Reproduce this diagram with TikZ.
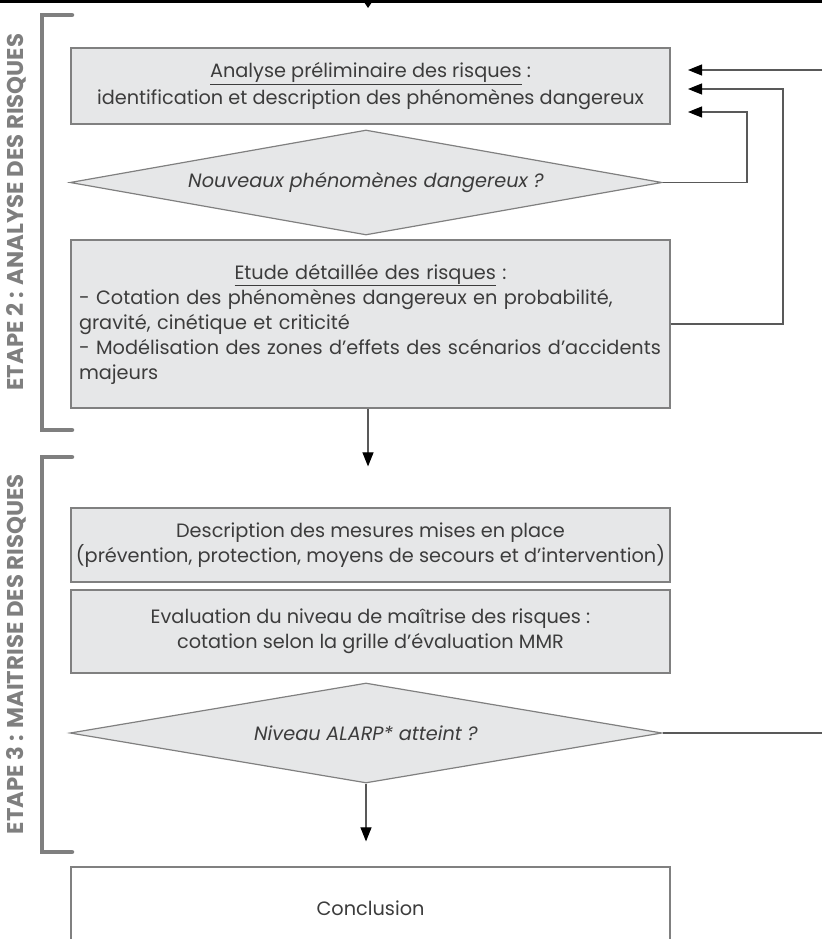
\documentclass[tikz,border=0pt]{standalone}
\usepackage{fontspec}
\setmainfont{Poppins}
\usetikzlibrary{arrows.meta,shapes.geometric}
\definecolor{boxfill}{HTML}{E6E7E8}
\definecolor{boxline}{HTML}{808080}
\definecolor{txtgray}{HTML}{3C3C3C}
\definecolor{stepgray}{HTML}{7F7F7F}
\begin{document}
\begin{tikzpicture}[x=1pt, y=-1pt,
    font=\fontsize{19.3}{25}\selectfont, text=txtgray,
    stepbox/.style={draw=boxline, line width=1.2pt, fill=boxfill, minimum width=599pt, inner sep=0pt, align=center},
    decision/.style={diamond, aspect=5.6, draw=boxline, line width=1.2pt, fill=boxfill, minimum width=592pt, inner sep=0pt, font=\fontsize{19.3}{25}\selectfont\itshape},
    flow/.style={draw=black!65, line width=1.1pt, -{Triangle[length=14pt, width=11pt, color=black]}},
    bracket/.style={draw=stepgray, line width=4.5pt, line cap=round},
    steplabel/.style={rotate=90, text=stepgray, font=\fontsize{22.8}{26}\selectfont\bfseries}]
    \useasboundingbox (0,0) rectangle (822,939);

    % Top edge (cut off)
    \draw[line width=4pt] (0,1.5) -- (822,1.5);
    \fill[black] (364,2) -- (372,2) -- (368,8) -- cycle;

    % Etape 2
    \node[stepbox, minimum height=76pt, font=\fontsize{19.3}{27}\selectfont] (apr) at (370.5,86)
        {\underline{Analyse préliminaire des risques} :\\identification et description des phénomènes dangereux};
    \node[decision, minimum height=105pt] (nouv) at (366,182.5) {Nouveaux phénomènes dangereux ?};
    \node[stepbox, minimum height=168pt, text width=583pt, align=left] (edr) at (370.5,324)
        {\makebox[\linewidth]{\underline{Etude détaillée des risques} :}\\
         - Cotation des phénomènes dangereux en probabilité,\\
         gravité, cinétique et criticité\\
         - Modélisation des zones d’effets des scénarios d’accidents\\
         majeurs};

    % Etape 3
    \node[stepbox, minimum height=74pt] (mes) at (370.5,545)
        {Description des mesures mises en place\\(prévention, protection, moyens de secours et d’intervention)};
    \node[stepbox, minimum height=83pt] (mmr) at (370.5,631.5)
        {Evaluation du niveau de maîtrise des risques :\\cotation selon la grille d’évaluation MMR};
    \node[decision, minimum height=100pt] (alarp) at (366,733) {Niveau ALARP* atteint ?};

    % Conclusion
    \node[stepbox, fill=white, minimum height=82pt] (concl) at (370.5,908) {Conclusion};

    % Down arrows
    \draw[flow, shorten >=41pt] (edr.south -| 368,0) -- (mes.north -| 368,0);
    \draw[flow, shorten >=25pt] (alarp.south) -- (concl.north -| alarp.south);

    % Feedback loops
    \coordinate (in1) at (688,70);
    \coordinate (in2) at (688,89);
    \coordinate (in3) at (688,112);
    \coordinate (out1) at (822,70);
    \coordinate (out2) at (822,733);
    \draw[flow] (out1) -- (in1);
    \draw[flow] (edr.east) -| (783,89) -- (in2);
    \draw[flow] (nouv.east) -| (747,112) -- (in3);
    \draw[draw=black!65, line width=1.1pt] (alarp.east) -- (out2);

    % Brackets and step labels
    \draw[bracket] (72,15) -- (42,15) -- (42,430) -- (72,430);
    \draw[bracket] (72,457) -- (42,457) -- (42,852) -- (72,852);
    \node[steplabel] (e2) at (16,212) {ETAPE 2 : ANALYSE DES RISQUES};
    \node[steplabel] (e3) at (16,654) {ETAPE 3 : MAITRISE DES RISQUES};
\end{tikzpicture}
\end{document}
